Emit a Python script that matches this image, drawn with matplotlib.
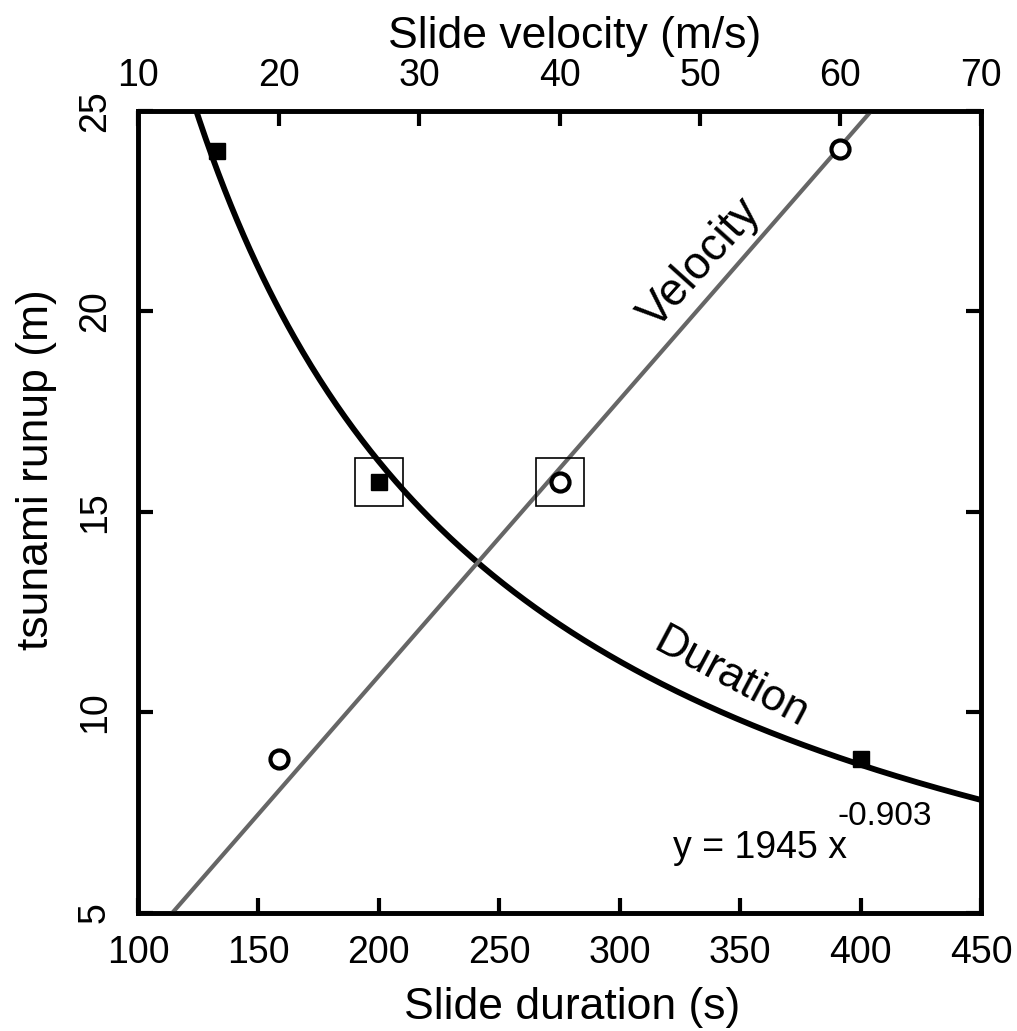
import numpy as np
import matplotlib
matplotlib.use("Agg")
import matplotlib.pyplot as plt

plt.rcParams['font.family'] = ['Liberation Sans', 'DejaVu Sans']

"Slide duration data (s) vs tsunami runup (m)"
duration = [133, 200, 400]
runup_dur = [24.0, 15.75, 8.85]

"Slide velocity data (m/s) vs tsunami runup (m)"
velocity = [20, 40, 60]
runup_vel = [8.85, 15.75, 24.05]

"Highlighted points"
box_duration = [200]
box_velocity = [40]
box_runup = [15.75]

"Power fit for duration: y = a x^b"
fit_a = 1945
fit_b = -0.903

"Linear fit for velocity (through origin)"
vel_slope = 0.402
vel_intercept = 0.0

fig = plt.figure(figsize=(10.17, 10.31), dpi=100)
ax = fig.add_axes([0.1357, 0.1145, 0.8289, 0.7779])

xs = np.linspace(100, 450, 400)
ax.plot(xs, fit_a * xs ** fit_b, color='black', lw=4.2, zorder=3)
ax.plot(duration, runup_dur, 's', color='black', ms=11, zorder=4)
ax.plot(box_duration, box_runup, 's', mfc='none', mec='black', mew=1.2, ms=35, zorder=4)

ax.set_xlim(100, 450)
ax.set_ylim(5, 25)
ax.set_xticks([100, 150, 200, 250, 300, 350, 400, 450])
ax.set_yticks([5, 10, 15, 20, 25])
ax.tick_params(axis='both', direction='in', length=11, width=3, labelsize=27)
ax.tick_params(axis='x', pad=16)
ax.tick_params(axis='y', right=True, pad=18)
for lbl in ax.get_yticklabels():
    lbl.set_rotation(90)
    lbl.set_va('center')
ax.set_xlabel("Slide duration (s)", fontsize=32)
ax.xaxis.set_label_coords(0.515, -0.092)
ax.set_ylabel("tsunami runup (m)", fontsize=32)
ax.yaxis.set_label_coords(-0.096, 0.553)
for sp in ax.spines.values():
    sp.set_linewidth(3.3)

ax2 = ax.twiny()
vs = np.linspace(10, 70, 50)
ax2.plot(vs, vel_slope * vs + vel_intercept, color='#666666', lw=3, zorder=2)
ax2.plot(velocity, runup_vel, 'o', mfc='white', mec='black', mew=3, ms=13, zorder=4)
ax2.plot(box_velocity, box_runup, 's', mfc='none', mec='black', mew=1.2, ms=35, zorder=4)
ax2.set_xlim(10, 70)
ax2.set_ylim(5, 25)
ax2.set_xticks([10, 20, 30, 40, 50, 60, 70])
ax2.tick_params(axis='x', direction='in', length=11, width=3, labelsize=27, pad=12)
ax2.set_xlabel("Slide velocity (m/s)", fontsize=32)
ax2.xaxis.set_label_coords(0.518, 1.078)
for sp in ax2.spines.values():
    sp.set_linewidth(3.3)

ax2.text(50, 21.2, "Velocity", fontsize=33, rotation=48, ha='center', va='center')
ax.text(346, 10.85, "Duration", fontsize=32, rotation=-28, ha='center', va='center')
ax.text(322, 6.37, "y = 1945 x", fontsize=27, ha='left', va='baseline')
ax.text(390.6, 7.4, "-0.903", fontsize=24, ha='left', va='center')

fig.savefig("out.png", dpi=100)
